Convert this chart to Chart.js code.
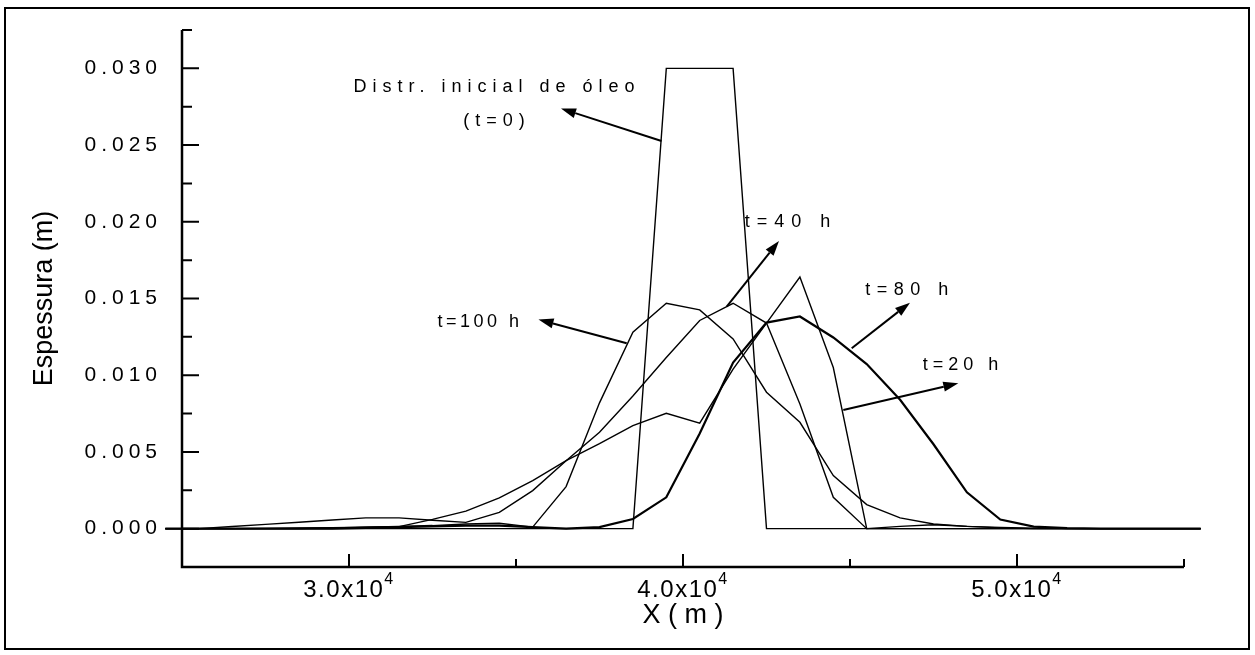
<!DOCTYPE html>
<html>
<head>
<meta charset="utf-8">
<title>Espessura da mancha de óleo</title>
<script src="https://cdn.jsdelivr.net/npm/chart.js"></script>
<style>
    body { margin: 0; background: #fff; }
    #wrap { width: 1255px; height: 655px; position: relative; }
</style>
</head>
<body>
<div id="wrap"><canvas id="grafico" width="1255" height="655"></canvas></div>
<script>
// Posições ao longo do eixo X (m)
const posicoesX = [24500, 25500, 26500, 27500, 28500, 29500, 30500, 31500, 32500, 33500, 34500,
    35500, 36500, 37500, 38500, 39500, 40500, 41500, 42500, 43500, 44500, 45500, 46500,
    47500, 48500, 49500, 50500, 51500, 52500, 53500, 54500, 55500];

// Espessura (m) para cada tempo
const espessuraT0 = [0, 0, 0, 0, 0, 0, 0, 0, 0, 0, 0,
    0, 0, 0, 0, 0.030, 0.030, 0.030, 0, 0, 0, 0, 0,
    0, 0, 0, 0, 0, 0, 0, 0, 0];
const espessuraT20 = [0, 0, 0, 0.00002, 0.00004, 0.00006, 0.0001, 0.00013, 0.0006, 0.00114, 0.002,
    0.00313, 0.00443, 0.00554, 0.00672, 0.00752, 0.00687, 0.0104, 0.0134, 0.0164, 0.0105, 0, 0,
    0, 0, 0, 0, 0, 0, 0, 0, 0];
const espessuraT40 = [0, 0, 0.00014, 0.00028, 0.00042, 0.00056, 0.0007, 0.0007, 0.00055, 0.00041, 0.00106,
    0.00248, 0.00443, 0.00628, 0.00864, 0.01115, 0.01357, 0.01469, 0.0134, 0.00813, 0.00204, 0, 0.00015,
    0.00025, 0.00015, 0.00005, 0, 0, 0, 0, 0, 0];
const espessuraT80 = [0, 0, 0, 0, 0, 0, 0.00005, 0.0001, 0.00015, 0.0002, 0.0002,
    0.0001, 0, 0.0001, 0.00063, 0.00204, 0.0062, 0.01083, 0.01343, 0.01383, 0.01246, 0.01073, 0.0084,
    0.0055, 0.00237, 0.00059, 0.00013, 0.00003, 0, 0, 0, 0];
const espessuraT100 = [0, 0, 0, 0, 0, 0.00005, 0.0001, 0.00015, 0.0002, 0.0003, 0.00035,
    0.0001, 0.00274, 0.0082, 0.0128, 0.01469, 0.01426, 0.01237, 0.00889, 0.00693, 0.00346, 0.00157, 0.0007,
    0.0003, 0.00015, 0.00008, 0.00003, 0, 0, 0, 0, 0];

// Eixos
const limitesX = [25000, 55000];
const limitesY = [-0.0025, 0.0325];
const ticksX = [30000, 40000, 50000];
const ticksXMenores = [25000, 35000, 45000, 55000];
const rotulosX = ['3.0x10', '4.0x10', '5.0x10'];
const ticksY = [0, 0.005, 0.010, 0.015, 0.020, 0.025, 0.030];
const ticksYMenores = [-0.0025, 0.0025, 0.0075, 0.0125, 0.0175, 0.0225, 0.0275, 0.0325];
const rotulosY = ['0.000', '0.005', '0.010', '0.015', '0.020', '0.025', '0.030'];

// Anotações (texto em coordenadas dos dados)
const textosAnotacao = ['Distr. inicial de óleo', '(t=0)', 't=100 h', 't=40 h', 't=80 h', 't=20 h'];
const textosX = [34431, 34431, 33922, 43233, 46796, 48383];
const textosY = [0.02879, 0.02657, 0.01347, 0.02001, 0.01555, 0.01067];
const espacamentoTextos = [6, 6, 3.5, 7, 6.5, 5];
// Setas: [x inicio, y inicio, x ponta, y ponta]
const setas = [
    [39356, 0.02527, 36347, 0.02738],
    [38314, 0.01208, 35674, 0.01363],
    [41308, 0.01447, 42874, 0.01875],
    [45051, 0.01176, 46796, 0.01473],
    [44799, 0.00773, 48243, 0.00947]
];

function pontos(valores) {
    return posicoesX.map((x, i) => ({ x: x, y: valores[i] }));
}

function serie(nome, valores, largura) {
    return {
        label: nome,
        data: pontos(valores),
        borderColor: '#000',
        borderWidth: largura,
        pointRadius: 0,
        tension: 0,
        fill: false,
        clip: false
    };
}

const fonteNormal = "'Liberation Sans', Arial, sans-serif";
const fonteEstreita = "'Liberation Sans Narrow', 'Liberation Sans', sans-serif";

// Desenha moldura, eixos, ticks, rótulos e setas
const desenhoExtra = {
    id: 'desenhoExtra',
    afterDraw(chart) {
        const ctx = chart.ctx;
        const sx = chart.scales.x;
        const sy = chart.scales.y;
        const esq = sx.getPixelForValue(limitesX[0]);
        const dir = sx.getPixelForValue(limitesX[1]);
        const topo = sy.getPixelForValue(limitesY[1]);
        const base = sy.getPixelForValue(limitesY[0]);

        ctx.save();
        ctx.strokeStyle = '#000';
        ctx.fillStyle = '#000';

        // moldura externa
        ctx.lineWidth = 2;
        ctx.strokeRect(5, 8, 1244, 641);

        // eixos
        ctx.lineWidth = 2.5;
        ctx.beginPath();
        ctx.moveTo(esq, topo);
        ctx.lineTo(esq, base);
        ctx.lineTo(dir, base);
        ctx.stroke();

        ctx.lineWidth = 2;
        ctx.beginPath();
        ticksY.forEach(v => {
            const py = sy.getPixelForValue(v);
            ctx.moveTo(esq, py);
            ctx.lineTo(esq + 17, py);
        });
        ticksYMenores.forEach(v => {
            const py = sy.getPixelForValue(v);
            ctx.moveTo(esq, py);
            ctx.lineTo(esq + 10, py);
        });
        ticksX.forEach(v => {
            const px = sx.getPixelForValue(v);
            ctx.moveTo(px, base);
            ctx.lineTo(px, base - 13);
        });
        ticksXMenores.forEach(v => {
            const px = sx.getPixelForValue(v);
            ctx.moveTo(px, base);
            ctx.lineTo(px, base - 8);
        });
        ctx.stroke();

        // rótulos do eixo Y
        ctx.font = '21px ' + fonteNormal;
        ctx.letterSpacing = '5px';
        ctx.textAlign = 'right';
        ctx.textBaseline = 'middle';
        ticksY.forEach((v, i) => {
            ctx.fillText(rotulosY[i], esq - 20, sy.getPixelForValue(v));
        });

        // rótulos do eixo X com expoente
        ctx.letterSpacing = '1.5px';
        ctx.textBaseline = 'alphabetic';
        ctx.textAlign = 'left';
        ticksX.forEach((v, i) => {
            const px = sx.getPixelForValue(v);
            ctx.font = '24px ' + fonteEstreita;
            const w = ctx.measureText(rotulosX[i]).width;
            ctx.font = '16px ' + fonteEstreita;
            const wExp = ctx.measureText('4').width;
            const x0 = px - (w + wExp) / 2;
            ctx.font = '24px ' + fonteEstreita;
            ctx.fillText(rotulosX[i], x0, base + 30);
            ctx.font = '16px ' + fonteEstreita;
            ctx.fillText('4', x0 + w, base + 17);
        });

        // textos das anotações
        ctx.font = '18px ' + fonteNormal;
        ctx.textAlign = 'center';
        ctx.textBaseline = 'middle';
        textosAnotacao.forEach((t, i) => {
            ctx.letterSpacing = espacamentoTextos[i] + 'px';
            ctx.fillText(t, sx.getPixelForValue(textosX[i]), sy.getPixelForValue(textosY[i]));
        });

        // setas
        ctx.lineWidth = 2;
        setas.forEach(s => {
            const x1 = sx.getPixelForValue(s[0]);
            const y1 = sy.getPixelForValue(s[1]);
            const x2 = sx.getPixelForValue(s[2]);
            const y2 = sy.getPixelForValue(s[3]);
            const ang = Math.atan2(y2 - y1, x2 - x1);
            const comp = 15;
            const meia = 5;
            const bx = x2 - comp * Math.cos(ang);
            const by = y2 - comp * Math.sin(ang);
            ctx.beginPath();
            ctx.moveTo(x1, y1);
            ctx.lineTo(bx, by);
            ctx.stroke();
            ctx.beginPath();
            ctx.moveTo(x2, y2);
            ctx.lineTo(bx + meia * Math.sin(ang), by - meia * Math.cos(ang));
            ctx.lineTo(bx - meia * Math.sin(ang), by + meia * Math.cos(ang));
            ctx.closePath();
            ctx.fill();
        });

        ctx.restore();
    }
};

const ctx = document.getElementById('grafico').getContext('2d');
const grafico = new Chart(ctx, {
    type: 'line',
    data: {
        datasets: [
            serie('t=0', espessuraT0, 1.4),
            serie('t=20 h', espessuraT20, 1.4),
            serie('t=40 h', espessuraT40, 1.4),
            serie('t=80 h', espessuraT80, 2.2),
            serie('t=100 h', espessuraT100, 1.4)
        ]
    },
    options: {
        responsive: false,
        animation: false,
        devicePixelRatio: 1,
        layout: { padding: { top: 30, right: 71, left: 0, bottom: 0 } },
        plugins: {
            legend: { display: false },
            tooltip: { enabled: false }
        },
        scales: {
            x: {
                type: 'linear',
                min: limitesX[0],
                max: limitesX[1],
                grid: { display: false },
                border: { display: false },
                ticks: { display: false },
                title: {
                    display: true,
                    text: 'X ( m )',
                    color: '#000',
                    font: { family: fonteEstreita, size: 27 },
                    padding: { bottom: 23 }
                },
                afterFit: s => { s.height = 88; }
            },
            y: {
                min: limitesY[0],
                max: limitesY[1],
                grid: { display: false },
                border: { display: false },
                ticks: { display: false },
                title: {
                    display: true,
                    text: 'Espessura (m)',
                    color: '#000',
                    font: { family: fonteNormal, size: 27 },
                    padding: { top: 28 }
                },
                afterFit: s => { s.width = 182; }
            }
        }
    },
    plugins: [desenhoExtra]
});
</script>
</body>
</html>
